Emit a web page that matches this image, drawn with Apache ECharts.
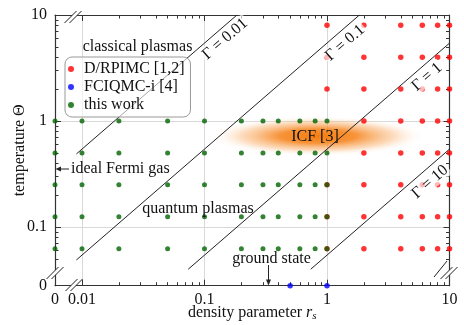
<!DOCTYPE html>
<html><head><meta charset="utf-8">
<script src="https://cdn.jsdelivr.net/npm/echarts@6/dist/echarts.min.js"></script>
<style>html,body{margin:0;padding:0;background:#fff}#c{width:464px;height:325px}</style>
</head><body><div id="c"></div>
<script>
// ---- data ----
const xTickValues = [0, 0.01, 0.1, 1, 10];
const xTickLabels = ['0', '0.01', '0.1', '1', '10'];
const yTickValues = [0, 0.1, 1, 10];
const yTickLabels = ['0', '0.1', '1', '10'];
const xMinorTicks = [0.02,0.03,0.04,0.05,0.06,0.07,0.08,0.09,0.2,0.3,0.4,0.5,0.6,0.7,0.8,0.9,2,3,4,5,6,7,8,9];
const yMinorTicks = [0.05,0.06,0.07,0.08,0.09,0.2,0.3,0.4,0.5,0.6,0.7,0.8,0.9,2,3,4,5,6,7,8,9];
const pimcRs = [2, 4, 6, 8, 10];
const pimcTheta = [8, 4, 2, 1, 0.5, 0.25, 0.125, 0.0625];
const pimcExtra = [[1, 8], [1, 4], [1, 2], [1, 0.25], [1, 0.125], [1, 0.0625]];
const fciqmcPoints = [[0.5, 0], [1, 0]];
const thisWorkRs = [0, 0.01, 0.02, 0.05, 0.1, 0.2, 0.3, 0.4, 0.6, 0.8, 1];
const thisWorkTheta = [1, 0.5, 0.25, 0.125, 0.0625];
const gammaNames = ['Γ = 0.01', 'Γ = 0.1', 'Γ = 1', 'Γ = 10'];
const gammaLines = [
  [[0.009, 0.489], [0.184, 10]],
  [[0.009, 0.0489], [1.84, 10]],
  [[0.0737, 0.04], [10, 5.43]],
  [[0.737, 0.04], [10, 0.543]]
];
const icfCenter = [0.84, 0.72];
const legendNames = ['D/RPIMC [1,2]', 'FCIQMC-i [4]', 'this work'];
const seriesColors = ['#ff0000', '#0000ff', '#006400'];

// axis break: the value 0 is drawn at these positions
const X_ZERO = 0.00602, X_MAX = 10;
const Y_ZERO = 0.02795, Y_MAX = 10;
const XMIN = Math.log10(X_ZERO), XMAX = Math.log10(X_MAX);
const YMIN = Math.log10(Y_ZERO), YMAX = Math.log10(Y_MAX);
const lx = v => v === 0 ? XMIN : Math.log10(v);
const ly = v => v === 0 ? YMIN : Math.log10(v);

const FONT = 'Liberation Serif';
const FS = 16;

function fmt(values, labels, isX) {
  return function (v) {
    for (let i = 0; i < values.length; i++) {
      const t = isX ? lx(values[i]) : ly(values[i]);
      if (Math.abs(t - v) < 1e-6) return labels[i];
    }
    return '';
  };
}

const pimcData = [];
pimcExtra.forEach(p => pimcData.push([lx(p[0]), ly(p[1])]));
pimcRs.forEach(r => pimcTheta.forEach(t => pimcData.push([lx(r), ly(t)])));
const fciData = fciqmcPoints.map(p => [lx(p[0]), ly(p[1])]);
const twData = [];
thisWorkRs.forEach(r => thisWorkTheta.forEach(t => twData.push([lx(r), ly(t)])));

const axisLineStyle = { color: '#333', width: 1.2 };
function mkX(pos, values, len, showLine, showLabel, split) {
  return {
    type: 'value', min: XMIN, max: XMAX, position: pos, gridIndex: 0,
    axisLine: { show: showLine, onZero: false, lineStyle: axisLineStyle },
    axisTick: { show: true, inside: true, length: len, lineStyle: { color: '#333', width: 1 }, customValues: values.map(lx) },
    axisLabel: showLabel ? { show: true, customValues: xTickValues.map(lx), formatter: fmt(xTickValues, xTickLabels, true), fontFamily: FONT, fontSize: FS, color: '#111', margin: 6 } : { show: false },
    splitLine: { show: split, lineStyle: { color: '#d9d9d9', width: 1 } }
  };
}
function mkY(pos, values, len, showLine, showLabel, split) {
  return {
    type: 'value', min: YMIN, max: YMAX, position: pos, gridIndex: 0,
    axisLine: { show: showLine, onZero: false, lineStyle: axisLineStyle },
    axisTick: { show: true, inside: true, length: len, lineStyle: { color: '#333', width: 1 }, customValues: values.map(ly) },
    axisLabel: showLabel ? { show: true, customValues: yTickValues.map(ly), formatter: fmt(yTickValues, yTickLabels, false), fontFamily: FONT, fontSize: FS, color: '#111', margin: 8 } : { show: false },
    splitLine: { show: split, lineStyle: { color: '#d9d9d9', width: 1 } }
  };
}

const xAxes = [
  mkX('bottom', xTickValues.slice(1), 6, true, true, true),
  mkX('bottom', xMinorTicks, 3.5, false, false, false),
  mkX('top', xTickValues.slice(1), 6, true, false, false),
  mkX('top', xMinorTicks, 3.5, false, false, false)
];
xAxes[0].name = 'density parameter {i|r}{s|s}';
xAxes[0].nameLocation = 'middle';
xAxes[0].nameGap = 18;
xAxes[0].nameMoveOverlap = false;
xAxes[0].nameTextStyle = { fontFamily: FONT, fontSize: FS, color: '#111',
  rich: { i: { fontFamily: FONT, fontSize: FS, fontStyle: 'italic', color: '#111' },
          s: { fontFamily: FONT, fontSize: 11, fontStyle: 'italic', color: '#111', padding: [7, 0, 0, 0] } } };
const yAxes = [
  mkY('left', yTickValues.slice(1), 6, true, true, true),
  mkY('left', yMinorTicks, 3.5, false, false, false),
  mkY('right', yTickValues.slice(1), 6, true, false, false),
  mkY('right', yMinorTicks, 3.5, false, false, false)
];
yAxes[0].name = 'temperature Θ';
yAxes[0].nameLocation = 'middle';
yAxes[0].nameGap = 27;
yAxes[0].nameMoveOverlap = false;
yAxes[0].nameTextStyle = { fontFamily: FONT, fontSize: FS, color: '#111' };

const series = [];
series.push({
  type: 'custom', name: 'ICF', silent: true, z: 1, xAxisIndex: 0, yAxisIndex: 0,
  data: [[lx(icfCenter[0]), ly(icfCenter[1])]],
  renderItem: function (params, api) {
    const c = api.coord([api.value(0), api.value(1)]);
    return {
      type: 'circle', x: c[0], y: c[1], scaleX: 5.4,
      shape: { cx: 0, cy: 0, r: 20 },
      style: { fill: { type: 'radial', x: 0.5, y: 0.5, r: 0.5, colorStops: [
        { offset: 0, color: 'rgba(245,125,15,1)' },
        { offset: 0.35, color: 'rgba(246,135,35,0.9)' },
        { offset: 0.7, color: 'rgba(249,175,105,0.45)' },
        { offset: 1, color: 'rgba(255,255,255,0)' } ] } }
    };
  }
});
gammaLines.forEach((ln, i) => {
  series.push({
    type: 'line', name: gammaNames[i], xAxisIndex: 0, yAxisIndex: 0, z: 2,
    data: ln.map(p => [lx(p[0]), ly(p[1])]), symbol: 'none', silent: true,
    lineStyle: { color: '#222', width: 1 }
  });
});
series.push({ type: 'scatter', name: legendNames[0], data: pimcData, symbolSize: 5.5, clip: false, z: 3, itemStyle: { color: seriesColors[0] } });
series.push({ type: 'scatter', name: legendNames[1], data: fciData, symbolSize: 5.5, clip: false, z: 3, itemStyle: { color: seriesColors[1] } });
series.push({ type: 'scatter', name: legendNames[2], data: twData, symbolSize: 5, clip: false, z: 4, itemStyle: { color: seriesColors[2] } });

const txt = (t, x, y, extra) => Object.assign({ type: 'text', x: x, y: y, z: 50,
  style: Object.assign({ text: t, fontFamily: FONT, fontSize: FS, fill: '#111', align: 'center', verticalAlign: 'middle' }, extra || {}) });
const ANG = Math.atan2(106, 122.3);
const gLab = (t, x, y) => ({ type: 'text', x: x, y: y, rotation: ANG, z: 50,
  style: { text: t, fontFamily: FONT, fontSize: FS, fill: '#111', align: 'center', verticalAlign: 'middle', backgroundColor: 'rgba(255,255,255,0.65)', padding: [0, 2] } });
const seg = (x1, y1, x2, y2, w) => ({ type: 'line', z: 50, shape: { x1: x1, y1: y1, x2: x2, y2: y2 }, style: { stroke: '#222', lineWidth: w || 1 } });
const brk = (cx, cy, dx) => [
  { type: 'polygon', z: 49, shape: { points: [[cx - 8 - dx, cy + 6], [cx + 4 - dx, cy - 6], [cx + 4 + dx, cy - 6], [cx - 8 + dx, cy + 6]] }, style: { fill: '#fff' } },
  seg(cx - 8 - dx, cy + 6, cx + 4 - dx, cy - 6, 1), seg(cx - 8 + dx, cy + 6, cx + 4 + dx, cy - 6, 1)
];

const graphic = [
  txt('classical plasmas', 137.5, 47),
  txt('ideal Fermi gas', 71, 169, { align: 'left' }),
  txt('quantum plasmas', 198, 209),
  txt('ground state', 271.5, 259),
  txt('ICF [3]', 315, 137),
  gLab(gammaNames[0], 225, 39),
  gLab(gammaNames[1], 345, 43),
  gLab(gammaNames[2], 427, 77),
  gLab(gammaNames[3], 430, 182),
  seg(60, 169, 69, 169),
  { type: 'polygon', z: 50, shape: { points: [[55.5, 169], [61, 166.5], [61, 171.5]] }, style: { fill: '#222' } },
  seg(268.5, 265, 268.5, 280),
  { type: 'polygon', z: 50, shape: { points: [[268.5, 285.5], [266, 279.5], [271, 279.5]] }, style: { fill: '#222' } }
].concat(brk(75, 17, 2.5), brk(76, 285, 2.5), brk(57, 273, 2.5), brk(451, 273, 2.5), [seg(434, 277, 447, 261)]);

const chart = echarts.init(document.getElementById('c'), null, { renderer: 'canvas' });
chart.setOption({
  animation: false,
  backgroundColor: '#fff',
  textStyle: { fontFamily: FONT, fontSize: FS, color: '#111' },
  grid: { left: 55, right: 14.5, top: 15, bottom: 39.3, containLabel: false, outerBoundsMode: 'none' },
  xAxis: xAxes,
  yAxis: yAxes,
  legend: {
    data: legendNames, orient: 'vertical', left: 65, top: 57,
    icon: 'circle', itemWidth: 16, itemHeight: 6, itemGap: 2,
    padding: [4, 6, 4, 3],
    backgroundColor: 'rgba(255,255,255,0.6)', borderColor: '#999', borderWidth: 1, borderRadius: 7,
    textStyle: { fontFamily: FONT, fontSize: FS, color: '#111', width: 111, overflow: 'none' },
    selectedMode: false
  },
  series: series,
  graphic: graphic
});
</script></body></html>
